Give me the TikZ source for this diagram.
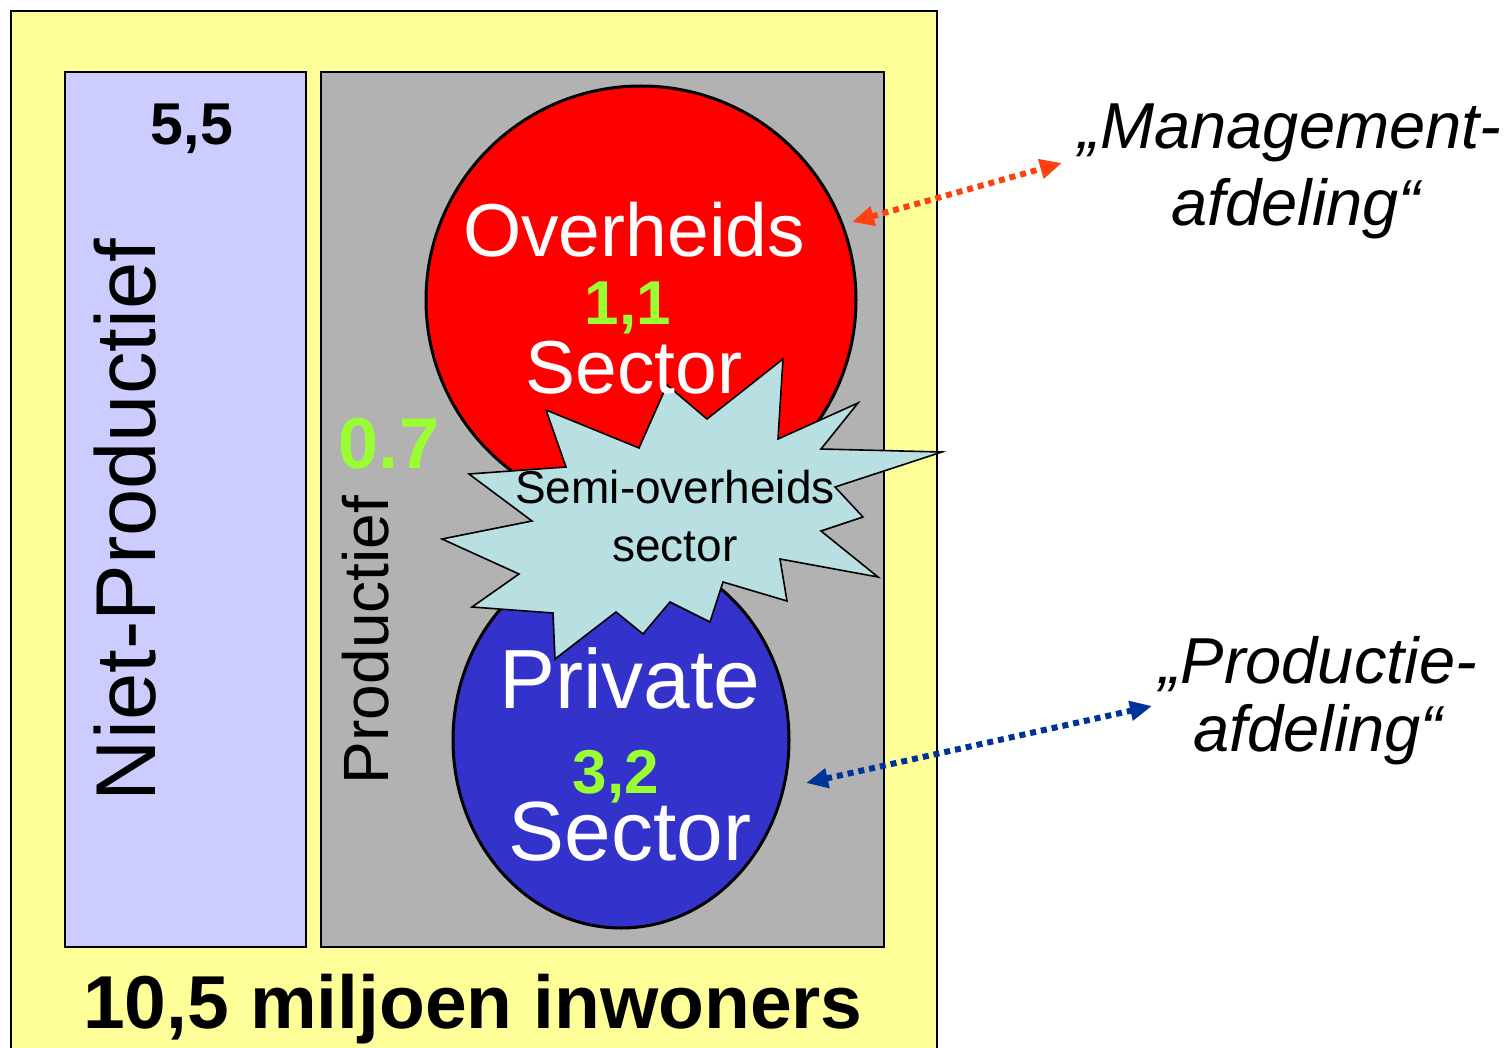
\documentclass[tikz,border=0pt]{standalone}
\usepackage{fontspec}
\setmainfont{Liberation Sans}
\usetikzlibrary{arrows.meta}
\definecolor{bgyellow}{HTML}{FFFF99}
\definecolor{lavender}{HTML}{CCCCFF}
\definecolor{midgray}{HTML}{B2B2B2}
\definecolor{redfill}{HTML}{FF0000}
\definecolor{bluefill}{HTML}{3333CC}
\definecolor{burstfill}{HTML}{B8DFE2}
\definecolor{numgreen}{HTML}{99FF33}
\definecolor{arrred}{HTML}{FF4010}
\definecolor{arrblue}{HTML}{003399}
\newcommand\myfs[1]{\fontsize{#1}{#1}\selectfont}
\begin{document}
\begin{tikzpicture}[x=1pt,y=-1pt,
  panel/.style={draw=black,line width=1.6pt},
  bubble/.style={draw=black,line width=3pt},
  txt/.style={inner sep=0pt,anchor=base},
  whitetxt/.style={txt,text=white},
  greennum/.style={txt,text=numgreen,font=\bfseries},
  dotarrow/.style={line width=6pt,dash pattern=on 6pt off 5pt,
    {Triangle[length=22pt,width=19pt]}-{Triangle[length=22pt,width=19pt]}}]
\useasboundingbox (0,0) rectangle (1507,1048);
% panels
\draw[panel,fill=bgyellow] (11,11) rectangle (937,1060);
\draw[panel,fill=lavender] (65,72) rectangle (306,947);
\draw[panel,fill=midgray] (321,72) rectangle (884,947);
% sector bubbles
\draw[bubble,fill=redfill] (641,300) ellipse [x radius=215, y radius=214];
\draw[bubble,fill=bluefill] (621,740) ellipse [x radius=168, y radius=188];
% starburst
\draw[line width=1.6pt,fill=burstfill,line join=miter]
  (783,359) -- (778,439) -- (858,403) -- (821,449) -- (942,452) -- (835,487)
  -- (863,517) -- (821,531) -- (878,577) -- (780,559) -- (787,601) -- (723,582)
  -- (710,622) -- (670,602) -- (643,634) -- (616,612) -- (555,659) -- (553,613)
  -- (472,607) -- (519,574) -- (442,539) -- (532,521) -- (469,474) -- (566,467)
  -- (546,410) -- (639,448) -- (667,385) -- (707,419) -- cycle;
% texts
\node[txt,font=\bfseries\myfs{59}] (n55) at (192,145) {5,5};
\node[txt,rotate=90,font=\myfs{85}] (niet) at (155,520) {Niet-Productief};
\node[txt,rotate=90,font=\myfs{64}] (prod) at (388,640) {Productief};
\node[greennum,font=\bfseries\myfs{72}] (n07) at (389,468) {0.7};
\node[whitetxt,font=\myfs{75}] (over) at (634,257) {Overheids};
\node[greennum,font=\bfseries\myfs{62}] (n11) at (628,325) {1,1};
\node[whitetxt,font=\myfs{75}] (sec1) at (634,393) {Sector};
\node[txt,font=\myfs{46}] (semi1) at (675,503) {Semi-overheids};
\node[txt,font=\myfs{46}] (semi2) at (675,561) {sector};
\node[whitetxt,font=\myfs{84}] (priv) at (630,708) {Private};
\node[greennum,font=\bfseries\myfs{62}] (n32) at (616,793) {3,2};
\node[whitetxt,font=\myfs{84}] (sec2) at (630,860) {Sector};
\node[txt,font=\bfseries\myfs{75}] (inw) at (473,1028) {10,5 miljoen inwoners};
\node[txt,font=\itshape\myfs{65}] (mg1) at (1290,149) {„Management-};
\node[txt,font=\itshape\myfs{65}] (mg2) at (1296,226) {afdeling“};
\node[txt,font=\itshape\myfs{65}] (pr1) at (1318,683) {„Productie-};
\node[txt,font=\itshape\myfs{65}] (pr2) at (1318,751) {afdeling“};
% connectors
\coordinate (redA) at (852,222);
\coordinate (redB) at (1062,163);
\coordinate (blueA) at (806,783);
\coordinate (blueB) at (1152,706);
\draw[dotarrow,arrred] (redA) -- (redB);
\draw[dotarrow,arrblue] (blueA) -- (blueB);
\end{tikzpicture}
\end{document}
